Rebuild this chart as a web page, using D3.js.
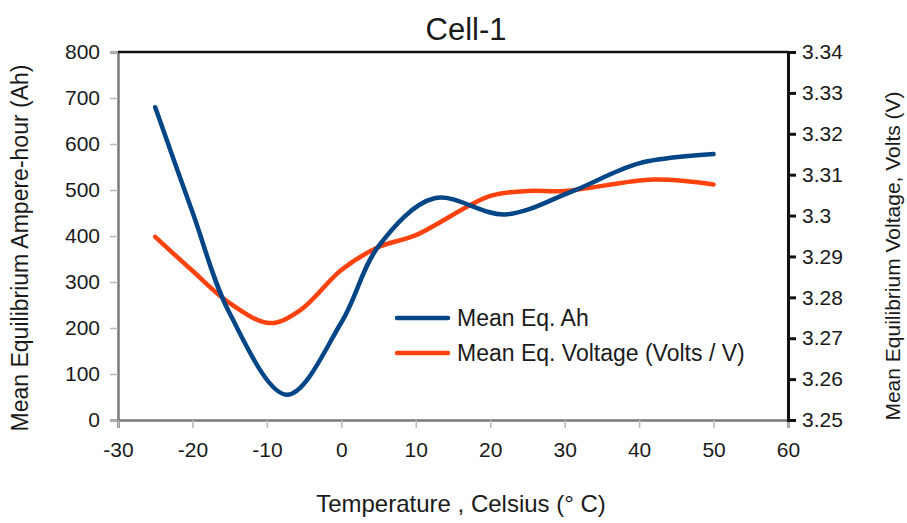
<!DOCTYPE html>
<html>
<head>
<meta charset="utf-8">
<script src="https://cdn.jsdelivr.net/npm/d3@7"></script>
<style>
    body { margin: 0; background: #fff; }
    text { font-family: "Liberation Sans", Arial, sans-serif; fill: #1a1a1a; }
</style>
</head>
<body>
<div id="chart"></div>
<script>
// Temperature (C) and values
const ahTemps = [-25, -20, -15, -7.3, 0, 5, 12.5, 22, 31, 40, 50];
const ahValues = [680, 452, 232, 55, 212, 378, 482, 447, 497, 558, 578];

const voltTemps = [-25, -20, -15, -9.6, -5.5, 0, 5, 10, 20, 25, 30, 42, 50];
const voltValues = [3.2948, 3.2865, 3.2786, 3.2737, 3.2769, 3.2867, 3.2923, 3.2952, 3.3048, 3.3060, 3.3060, 3.3088, 3.3076];

const xTicks = [-30, -20, -10, 0, 10, 20, 30, 40, 50, 60];
const ahTicks = [0, 100, 200, 300, 400, 500, 600, 700, 800];
const voltTicks = [3.25, 3.26, 3.27, 3.28, 3.29, 3.3, 3.31, 3.32, 3.33, 3.34];

const seriesNames = ["Mean Eq. Ah", "Mean Eq. Voltage (Volts / V)"];
const colors = ["#004586", "#ff420e"];

const margin = { top: 52, right: 119, bottom: 103, left: 118 };
const width = 907 - margin.left - margin.right;
const height = 523 - margin.top - margin.bottom;

const root = d3.select("#chart").append("svg")
    .attr("width", 907)
    .attr("height", 523);

const svg = root.append("g")
    .attr("transform", `translate(${margin.left},${margin.top})`);

const x = d3.scaleLinear().domain([-30, 60]).range([0, width]);
const yAh = d3.scaleLinear().domain([0, 800]).range([height, 0]);
const yV = d3.scaleLinear().domain([3.25, 3.34]).range([height, 0]);

// left axis (grey)
const leftAxis = svg.append("g")
    .call(d3.axisLeft(yAh).tickValues(ahTicks).tickSize(8).tickPadding(10));
leftAxis.select(".domain").attr("stroke", "#7a7a7a").attr("stroke-width", 2.5);
leftAxis.selectAll(".tick line").attr("stroke", "#b8b8b8").attr("stroke-width", 1.5);
leftAxis.selectAll(".tick text").attr("font-size", 21).attr("fill", "#1a1a1a");

// bottom axis (grey), plain hyphen for negatives like the original
const bottomAxis = svg.append("g")
    .attr("transform", `translate(0,${height})`)
    .call(d3.axisBottom(x).tickValues(xTicks).tickSize(8).tickPadding(14)
        .tickFormat(d => String(d)));
bottomAxis.select(".domain").attr("stroke", "#7a7a7a").attr("stroke-width", 2.5);
bottomAxis.selectAll(".tick line").attr("stroke", "#b8b8b8").attr("stroke-width", 1.5);
bottomAxis.selectAll(".tick text").attr("font-size", 21).attr("fill", "#1a1a1a");

// top border
svg.append("line")
    .attr("x1", 0).attr("x2", width)
    .attr("y1", 0).attr("y2", 0)
    .attr("stroke", "#111").attr("stroke-width", 2.5);

// right axis (black)
const rightAxis = svg.append("g")
    .attr("transform", `translate(${width},0)`)
    .call(d3.axisRight(yV).tickValues(voltTicks).tickSize(8).tickPadding(6)
        .tickFormat(d => String(+d.toFixed(2))));
rightAxis.select(".domain").attr("stroke", "#111").attr("stroke-width", 3);
rightAxis.selectAll(".tick line").attr("stroke", "#111").attr("stroke-width", 3);
rightAxis.selectAll(".tick text").attr("font-size", 21).attr("fill", "#1a1a1a");

// lines
const ahData = ahTemps.map((t, i) => ({ t: t, v: ahValues[i] }));
const voltData = voltTemps.map((t, i) => ({ t: t, v: voltValues[i] }));

const ahLine = d3.line()
    .x(d => x(d.t))
    .y(d => yAh(d.v))
    .curve(d3.curveCatmullRom.alpha(0.5));

const voltLine = d3.line()
    .x(d => x(d.t))
    .y(d => yV(d.v))
    .curve(d3.curveCatmullRom.alpha(0.5));

svg.append("path")
    .datum(voltData)
    .attr("fill", "none")
    .attr("stroke", colors[1])
    .attr("stroke-width", 4.5)
    .attr("stroke-linecap", "round")
    .attr("d", voltLine);

svg.append("path")
    .datum(ahData)
    .attr("fill", "none")
    .attr("stroke", colors[0])
    .attr("stroke-width", 4.5)
    .attr("stroke-linecap", "round")
    .attr("d", ahLine);

// legend
const legend = root.append("g").attr("transform", "translate(397,318)");
seriesNames.forEach((name, i) => {
    legend.append("line")
        .attr("x1", 0).attr("x2", 51)
        .attr("y1", i * 35).attr("y2", i * 35)
        .attr("stroke", colors[i])
        .attr("stroke-width", 4.5)
        .attr("stroke-linecap", "round");
    legend.append("text")
        .attr("x", 60)
        .attr("y", i * 35 + 8)
        .attr("font-size", 23)
        .text(name);
});

// titles
root.append("text")
    .attr("x", 466).attr("y", 40)
    .attr("text-anchor", "middle")
    .attr("font-size", 31)
    .text("Cell-1");

root.append("text")
    .attr("x", 461).attr("y", 512)
    .attr("text-anchor", "middle")
    .attr("font-size", 24)
    .text("Temperature , Celsius (° C)");

root.append("text")
    .attr("transform", "translate(28,248) rotate(-90)")
    .attr("text-anchor", "middle")
    .attr("font-size", 23)
    .text("Mean Equilibrium Ampere-hour (Ah)");

root.append("text")
    .attr("transform", "translate(900,256) rotate(-90)")
    .attr("text-anchor", "middle")
    .attr("font-size", 21)
    .text("Mean Equilibrium Voltage, Volts (V)");
</script>
</body>
</html>
